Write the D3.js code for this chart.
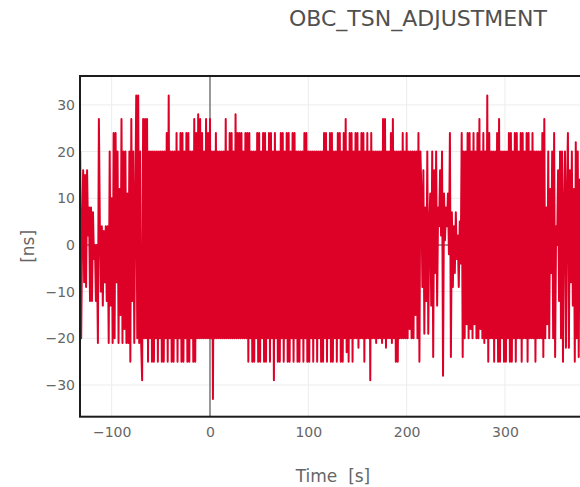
<!DOCTYPE html>
<html>
<head>
<meta charset="utf-8">
<script src="https://cdn.jsdelivr.net/npm/d3@7"></script>
<style>
    body { margin: 0; background: #fff; }
    svg { display: block; font-family: "DejaVu Sans", Verdana, sans-serif; }
</style>
</head>
<body>
<div id="chart"></div>
<script>
// one sample per second, first sample at T_START [s], values in [ns]
const T_START = -132;

// t = -132 .. -66 (sparse start)
const adj_a = [
    20, -20, 3, 16, -8, 15, -9, 16, 2, 8,
    -12, 8, -12, 7, -3, 0, -12, 0, -21, 27,
    4, -10, 4, -13, 3, -8, 4, -12, 4, -21,
    20, -13, 10, -21, 24, -20, 24, -8, 20, -21,
    12, -15, 27, -21, 20, -18, 20, -21, 11, -21,
    20, -25, 27, -12, 20, -21, 8, 32, -20, 32,
    -21, 20, -21, -29, 27, -20, 27
];
// t = -65 .. 49
const adj_b = [
    -20, 27, -25, 20, -20, 20, -25, 20, -25, 20,
    -20, 20, -25, 20, -20, 20, -25, 20, -25, 20,
    -20, 24, -25, 32, -20, 20, -25, 20, -25, 20,
    -20, 24, -25, 20, -20, 24, -25, 24, -25, 20,
    -20, 24, -25, 24, -25, 20, -20, 20, -25, 27,
    -25, 24, -20, 28, -20, 27, -20, 24, -20, 20,
    -20, 27, -20, 24, -20, 27, -20, 20, -33, 20,
    -20, 24, -20, 20, -20, 20, -20, 20, -20, 20,
    -20, 27, -20, 20, -20, 24, -20, 24, -20, 20,
    -20, 28, -20, 24, -20, 24, -20, 24, -20, 20,
    -20, 24, -20, 24, -25, 24, -20, 20, -25, 20,
    -25, 20, -20, 24, -25
];
// t = 50 .. 189
const adj_c = [
    24, -25, 20, -20, 24, -25, 24, -25, 20, -20,
    24, -25, 24, -20, 20, -29, 24, -20, 20, -25,
    20, -25, 24, -20, 24, -25, 20, -20, 24, -25,
    24, -25, 20, -20, 24, -25, 24, -20, 20, -25,
    20, -25, 20, -20, 20, -25, 24, -20, 24, -25,
    20, -25, 20, -20, 20, -25, 20, -20, 20, -25,
    20, -20, 20, -25, 20, -25, 24, -20, 24, -25,
    20, -20, 24, -25, 24, -25, 20, -20, 20, -25,
    24, -20, 24, -25, 20, -25, 24, -20, 27, -23,
    20, -25, 24, -20, 24, -25, 20, -20, 24, -20,
    24, -22, 20, -20, 24, -20, 24, -25, 20, -20,
    24, -20, 20, -29, 24, -20, 20, -20, 20, -21,
    20, -20, 20, -20, 20, -21, 27, -20, 27, -22,
    20, -20, 20, -20, 24, -21, 27, -20, 20, -25
];
// t = 190 .. 255 (thins out)
const adj_d = [
    20, -25, 20, -20, 20, -20, 24, -20, 20, -20,
    24, -20, 20, -18, 20, -20, 20, -20, 20, -15,
    20, -20, 24, -25, 20, 11, -9, 16, -19, 8,
    -12, 20, -19, 4, 11, -13, 20, -24, 16, -6,
    20, -13, 8, 4, 16, 2, 20, -28, 11, 1,
    8, 4, 11, -2, 24, -24, 7, -9, 4, -6,
    7, -3, 2, -9, 5, -4
];
// t = 256 .. 335
const adj_e = [
    24, -24, 20, -20, 20, -17, 24, -20, 24, -18,
    20, -20, 24, -17, 20, -20, 24, -20, 27, -18,
    20, -20, 24, -21, 20, -20, 32, -25, 24, -20,
    20, -20, 20, -25, 20, -20, 24, -25, 27, -25,
    20, -20, 20, -25, 20, -25, 20, -20, 24, -25,
    24, -25, 20, -20, 24, -25, 24, -20, 20, -20,
    24, -25, 24, -20, 20, -20, 24, -25, 24, -20,
    20, -20, 24, -20, 20, -25, 20, -20, 20, -20
];
// t = 336 .. 382
const adj_f = [
    20, -20, 24, -24, 27, -20, 8, -17, 20, -20,
    12, -6, 20, -20, 24, -24, 4, 0, 16, -12,
    20, -20, 20, -25, 8, 20, -22, 11, 24, -22,
    16, -8, 20, -13, 12, -25, 22, -20, 20, -24,
    14, -10, 20, -20, 8, -12, 20
];

const xTicks = [-100, 0, 100, 200, 300];
const yTicks = [-30, -20, -10, 0, 10, 20, 30];
const xDomain = [-132.2, 382.4];
const yDomain = [-36.8, 36.2];
const chartTitle = "OBC_TSN_ADJUSTMENT";
const xTitle = "Time  [s]";
const yTitle = "[ns]";

function draw_chart() {
    const config = {
        width: 580,
        height: 487,
        plot: { left: 80, top: 76, right: 586, bottom: 416.7 },
        lineColor: '#dd0027',
        gridColor: '#ececec',
        zeroColor: '#777',
        frameColor: '#1c1c1c',
        textColor: '#666',
        titleColor: '#505050',
    };
    const svg = d3.select("#chart")
        .append("svg")
        .attr("width", config.width)
        .attr("height", config.height);

    const values = [].concat(adj_a, adj_b, adj_c, adj_d, adj_e, adj_f);
    const data = values.map((v, i) => ({ t: T_START + i, v: v }));

    const scale_x = d3.scaleLinear()
        .domain(xDomain)
        .range([config.plot.left, config.plot.right]);
    const scale_y = d3.scaleLinear()
        .domain(yDomain)
        .range([config.plot.bottom, config.plot.top]);

    svg.append("clipPath").attr("id", "plot-clip")
        .append("rect")
        .attr("x", config.plot.left)
        .attr("y", config.plot.top)
        .attr("width", config.plot.right - config.plot.left)
        .attr("height", config.plot.bottom - config.plot.top);

    // grid
    const g_grid = svg.append("g");
    g_grid.selectAll(".gx")
        .data(xTicks.filter(d => d !== 0))
        .join("line")
        .attr("x1", d => scale_x(d)).attr("x2", d => scale_x(d))
        .attr("y1", config.plot.top).attr("y2", config.plot.bottom)
        .attr("stroke", config.gridColor).attr("stroke-width", 1);
    g_grid.selectAll(".gy")
        .data(yTicks.filter(d => d !== 0))
        .join("line")
        .attr("x1", config.plot.left).attr("x2", config.plot.right)
        .attr("y1", d => scale_y(d)).attr("y2", d => scale_y(d))
        .attr("stroke", config.gridColor).attr("stroke-width", 1);

    // zero lines
    svg.append("line")
        .attr("x1", scale_x(0)).attr("x2", scale_x(0))
        .attr("y1", config.plot.top).attr("y2", config.plot.bottom)
        .attr("stroke", config.zeroColor).attr("stroke-width", 1.5);
    svg.append("line")
        .attr("x1", config.plot.left).attr("x2", config.plot.right)
        .attr("y1", scale_y(0)).attr("y2", scale_y(0))
        .attr("stroke", config.zeroColor).attr("stroke-width", 1.5);

    // trace
    const line = d3.line()
        .x(d => scale_x(d.t))
        .y(d => scale_y(d.v));
    svg.append("path")
        .datum(data)
        .attr("clip-path", "url(#plot-clip)")
        .attr("fill", "none")
        .attr("stroke", config.lineColor)
        .attr("stroke-width", 2)
        .attr("stroke-linejoin", "round")
        .attr("d", line);

    // frame
    svg.append("rect")
        .attr("x", config.plot.left)
        .attr("y", config.plot.top)
        .attr("width", config.plot.right - config.plot.left)
        .attr("height", config.plot.bottom - config.plot.top)
        .attr("fill", "none")
        .attr("stroke", config.frameColor)
        .attr("stroke-width", 2);

    // axes
    const axis_bottom = d3.axisBottom(scale_x).tickValues(xTicks).tickSize(0).tickPadding(10);
    const g_axisX = svg.append("g")
        .attr("transform", `translate(0, ${config.plot.bottom})`)
        .call(axis_bottom);
    const axis_left = d3.axisLeft(scale_y).tickValues(yTicks).tickSize(0).tickPadding(5);
    const g_axisY = svg.append("g")
        .attr("transform", `translate(${config.plot.left}, 0)`)
        .call(axis_left);
    [g_axisX, g_axisY].forEach(g => {
        g.select(".domain").remove();
        g.selectAll("text")
            .attr("fill", config.textColor)
            .style("font-family", '"DejaVu Sans", Verdana, sans-serif')
            .style("font-size", "14px");
    });

    // titles
    svg.append("text")
        .attr("x", 418).attr("y", 26)
        .attr("text-anchor", "middle")
        .attr("fill", config.titleColor)
        .style("font-size", "22px")
        .text(chartTitle);
    svg.append("text")
        .attr("x", (config.plot.left + config.plot.right) / 2)
        .attr("y", 482)
        .attr("text-anchor", "middle")
        .attr("fill", config.textColor)
        .style("font-size", "17px")
        .style("white-space", "pre")
        .text(xTitle);
    svg.append("text")
        .attr("transform", `translate(34, ${(config.plot.top + config.plot.bottom) / 2}) rotate(-90)`)
        .attr("text-anchor", "middle")
        .attr("fill", config.textColor)
        .style("font-size", "17px")
        .text(yTitle);
}
draw_chart();
</script>
</body>
</html>
